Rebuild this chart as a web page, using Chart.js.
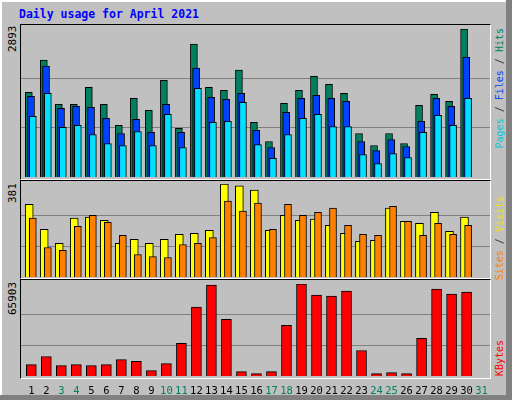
<!DOCTYPE html>
<html><head><meta charset="utf-8">
<script src="https://cdn.jsdelivr.net/npm/chart.js@4/dist/chart.umd.min.js"></script>
<style>
body{margin:0;background:#c0c0c0;}
#root{position:absolute;left:0;top:0;width:512px;height:400px;background:#c0c0c0;overflow:hidden;font-family:"DejaVu Sans Mono",monospace;}
.abs{position:absolute;}
.frame{position:absolute;border-top:1px solid #000;border-left:1px solid #000;border-right:1px solid #fff;border-bottom:1px solid #fff;box-sizing:border-box;}
.vt{position:absolute;writing-mode:vertical-rl;transform:rotate(180deg);font-size:11px;white-space:nowrap;}
.vr{font-size:10px;}
canvas{position:absolute;}
</style></head><body>
<div id="root">
  <div class="abs" style="left:0;top:0;width:512px;height:2px;background:#fff"></div>
  <div class="abs" style="left:0;top:0;width:2px;height:400px;background:#fff"></div>
  <div class="abs" style="left:506px;top:0;width:6px;height:400px;background:#808080"></div>
  <div class="abs" style="left:0;top:395px;width:512px;height:5px;background:#808080"></div>
  <div class="abs" style="left:19px;top:7px;color:#0000ff;font-weight:bold;font-size:11.5px;">Daily usage for April 2021</div>
  <div class="frame" style="left:20px;top:24px;width:471px;height:156px"></div>
  <div class="frame" style="left:20px;top:180px;width:471px;height:99px"></div>
  <div class="frame" style="left:20px;top:279px;width:471px;height:100px"></div>
  <div class="vt" style="left:6px;top:26px;height:28px;text-align:right;">2893</div>
  <div class="vt" style="left:6px;top:183px;height:22px;text-align:right;">381</div>
  <div class="vt" style="left:6px;top:282px;height:36px;text-align:right;">65903</div>
  <div class="vt vr" style="left:494px;top:28px;"><span style="color:#00c8d8">Pages</span><span style="color:#404040"> / </span><span style="color:#0040ff">Files</span><span style="color:#404040"> / </span><span style="color:#008060">Hits</span></div>
  <div class="vt vr" style="left:494px;top:196px;"><span style="color:#ff8000">Sites</span><span style="color:#404040"> / </span><span style="color:#f0e000">Visits</span></div>
  <div class="vt vr" style="left:494px;top:340px;"><span style="color:#ff0000">KBytes</span></div>
  <canvas id="c1" style="left:21px;top:25px" width="469" height="153"></canvas>
  <canvas id="c2" style="left:21px;top:181px" width="469" height="96"></canvas>
  <canvas id="c3" style="left:21px;top:280px" width="469" height="120"></canvas>
</div>
<script>
const days = Array.from({length:31},(_, i)=>i+1);
const weekend = [3,4,10,11,17,18,24,25,31];
const hits  = [1656,2284,1420,1420,1754,1420,1008,1538,1302,1892,949,2599,1754,1695,2088,1067,694,1440,1695,1970,1813,1636,851,615,851,655,1401,1617,1479,2893,0];
const files = [1577,2166,1342,1381,1361,1145,851,1126,871,1420,871,2127,1558,1518,1636,910,576,1263,1538,1597,1538,1479,694,517,733,596,1087,1538,1381,2343,0];
const pages = [1185,1636,969,1008,831,655,615,890,615,1224,576,1734,1067,1087,1460,635,367,831,1145,1224,988,988,439,262,458,380,871,1204,1008,1538,0];
const visits= [298,195,138,241,245,232,138,154,138,154,175,179,191,381,373,356,191,253,232,237,212,179,146,150,282,228,220,265,187,245,0];
const sites = [241,121,109,208,253,224,171,92,84,80,133,138,162,311,270,303,195,298,253,265,282,212,175,171,290,228,171,220,175,212,0];
const kbytes= [8178,13950,7456,8178,7456,8178,11786,10583,3848,8899,23330,49307,65181,40648,3127,1684,3127,36318,65903,57966,57245,60853,18280,1684,2405,1684,26939,62296,58688,60131,0];
const maxHits=2893, maxVisits=381, maxKB=65903;

Chart.defaults.animation=false;
Chart.defaults.font.family='"DejaVu Sans Mono", monospace';
function ds(vals, off, color, w, order){
  return {data: vals.map((v,i)=>({x:days[i]+off,y:v})).filter(p=>p.y>0),
    backgroundColor:color,borderColor:'#000',borderWidth:1,barThickness:w,grouped:false,order:order};
}
function opts(max, pad, showX){
  return {responsive:false,maintainAspectRatio:false,layout:{padding:pad},
    plugins:{legend:{display:false},tooltip:{enabled:false}},
    scales:{
      x:{type:'linear',min:0.313,max:31.56,offset:false,display:showX,
        grid:{display:false},border:{display:false},
        afterBuildTicks:s=>{s.ticks=days.map(d=>({value:d}));},
        afterFit:s=>{s.height=showX?24:0;},
        ticks:{autoSkip:false,maxRotation:0,padding:1,font:{size:10.5},
          color:c=>weekend.includes(c.tick.value)?'#008060':'#000',
          callback:v=>String(v)}},
      y:{min:0,max:max,display:true,
        border:{display:false},
        afterBuildTicks:s=>{s.ticks=[{value:max/3},{value:2*max/3}];},
        afterFit:s=>{s.width=0;},
        grid:{color:'#808080',lineWidth:1,drawTicks:false},
        ticks:{display:false}}
    }};
}
new Chart(document.getElementById('c1'),{type:'bar',data:{datasets:[
  ds(hits,-0.167,'#008060',7,3), ds(files,-0.02,'#0040ff',7,2), ds(pages,0.1,'#00e0ff',7,1)]},
  options:opts(maxHits,{top:4,bottom:1,left:0,right:0},false)});
new Chart(document.getElementById('c2'),{type:'bar',data:{datasets:[
  ds(visits,-0.14,'#ffff00',8,2), ds(sites,0.1,'#ff8000',7,1)]},
  options:opts(maxVisits,{top:3,bottom:0,left:0,right:0},false)});
new Chart(document.getElementById('c3'),{type:'bar',data:{datasets:[
  ds(kbytes,0,'#ff0000',10,1)]},
  options:opts(maxKB,{top:4,bottom:0,left:0,right:0},true)});
</script>
</body></html>
